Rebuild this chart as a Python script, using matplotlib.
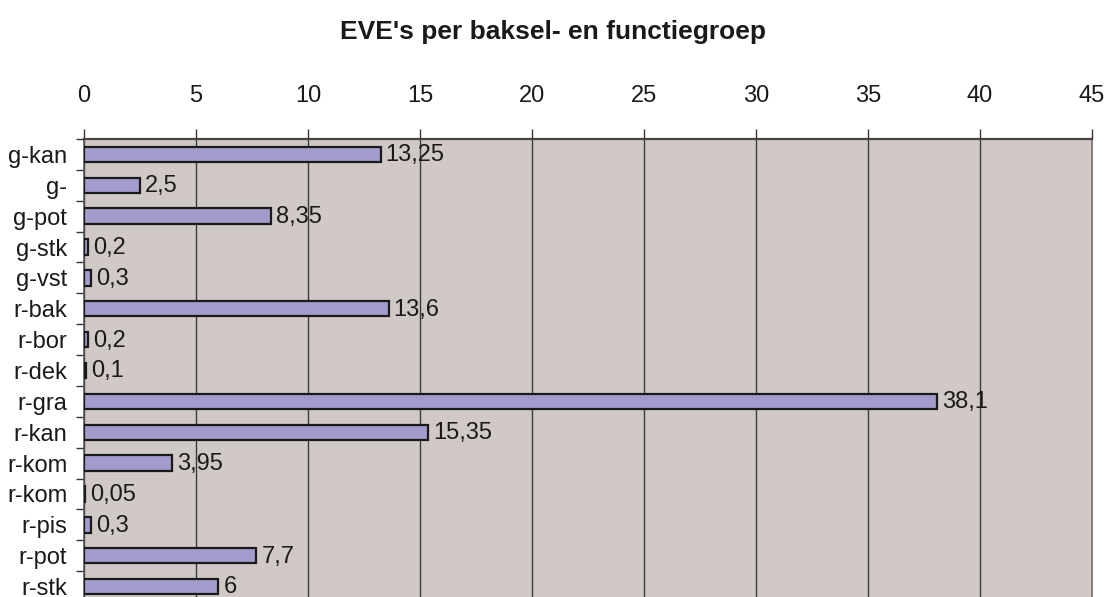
import matplotlib
matplotlib.use("Agg")
import matplotlib.pyplot as plt
import numpy as np

categories = ["g-kan", "g-", "g-pot", "g-stk", "g-vst", "r-bak", "r-bor", "r-dek",
              "r-gra", "r-kan", "r-kom", "r-kom", "r-pis", "r-pot", "r-stk"]
values = [13.25, 2.5, 8.35, 0.2, 0.3, 13.6, 0.2, 0.1, 38.1, 15.35, 3.95, 0.05, 0.3, 7.7, 6]
labels = ["13,25", "2,5", "8,35", "0,2", "0,3", "13,6", "0,2", "0,1", "38,1", "15,35",
          "3,95", "0,05", "0,3", "7,7", "6"]
xticks = [0, 5, 10, 15, 20, 25, 30, 35, 40, 45]

plt.rcParams['font.family'] = ['Liberation Sans', 'DejaVu Sans']

W, H = 1107, 597
fig = plt.figure(figsize=(W / 100, H / 100), dpi=100)
left, right, top, bottom = 84, 1092, 139, 602
ax = fig.add_axes([left / W, (H - bottom) / H, (right - left) / W, (bottom - top) / H])
ax.set_facecolor('#D1C9C5')

y = np.arange(len(categories))
ax.barh(y, values, height=0.5, color='#A39BCB', edgecolor='#1a1a1a', linewidth=1.6, zorder=3)
for yi, v, lab in zip(y, values, labels):
    ax.text(v + 0.22, yi + 0.03, lab, va='center', ha='left', fontsize=17, color='#1a1a1a', zorder=4)

ax.set_xlim(0, 45)
ax.set_ylim(len(categories) - 0.5, -0.5)
ax.set_xticks(xticks)
ax.set_xticklabels([str(t) for t in xticks])
ax.xaxis.tick_top()
ax.tick_params(axis='x', direction='out', length=7, width=1, color='#333333', labelsize=17, pad=16, labelcolor='#1a1a1a')
ax.set_yticks(y)
ax.set_yticklabels(categories)
ax.set_yticks(np.arange(len(categories) + 1) - 0.5, minor=True)
ax.tick_params(axis='y', which='major', length=0, labelsize=17, pad=12, labelcolor='#1a1a1a')
ax.tick_params(axis='y', which='minor', direction='out', length=6, width=1, color='#333333')
ax.grid(axis='x', color='#3a3a3a', linewidth=1, zorder=1)
ax.set_axisbelow(True)
ax.spines['top'].set_color('#4a4242')
ax.spines['top'].set_linewidth(1.6)
ax.spines['left'].set_color('#555555')
ax.spines['left'].set_linewidth(1.2)
ax.spines['right'].set_color('#8a8280')
ax.spines['right'].set_linewidth(1.5)
ax.spines['bottom'].set_visible(False)

fig.text(0.5, 1 - 32 / H, "EVE's per baksel- en functiegroep", ha='center', va='center',
         fontsize=19, fontweight='bold', color='#1a1a1a')

fig.savefig('out.png', dpi=100, facecolor='white')
